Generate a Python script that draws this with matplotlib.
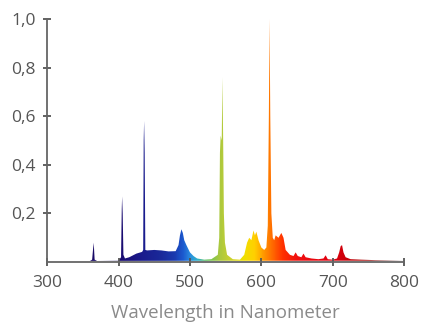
import numpy as np
import matplotlib
matplotlib.use('Agg')
import matplotlib.pyplot as plt
from matplotlib.colors import LinearSegmentedColormap
from matplotlib.ticker import FuncFormatter

# spectrum (wavelength in nm, relative intensity)
wavelength = [360, 363, 364.5, 365.2, 366.5, 370, 400, 403.5, 404.5, 405, 405.8, 406.8,
              409, 415, 425, 433, 434.5, 435.2, 435.8, 436.6, 437.5, 440, 450, 460, 470,
              480, 484, 486, 488, 490, 492, 495, 500, 505, 510, 520, 530, 539, 541, 542,
              543, 544.5, 545.5, 546.5, 547.5, 549, 552, 560, 570, 576, 580, 583, 586,
              589, 591, 593, 596, 600, 604, 607, 609, 610.5, 611.5, 612.5, 614, 616, 618,
              620, 624, 628, 631, 634, 640, 645, 648, 651, 656, 659, 662, 670, 680, 687,
              690, 693, 700, 706, 709, 711, 713, 715, 718, 725, 740, 760, 780, 800]
intensity = [0.005, 0.01, 0.06, 0.08, 0.01, 0.005, 0.006, 0.02, 0.22, 0.27, 0.2, 0.03,
             0.015, 0.02, 0.035, 0.042, 0.05, 0.5, 0.58, 0.45, 0.05, 0.048, 0.05, 0.048,
             0.044, 0.045, 0.07, 0.11, 0.135, 0.12, 0.09, 0.07, 0.04, 0.025, 0.015, 0.01,
             0.012, 0.03, 0.1, 0.45, 0.52, 0.5, 0.76, 0.5, 0.2, 0.08, 0.03, 0.012, 0.01,
             0.03, 0.08, 0.1, 0.09, 0.13, 0.11, 0.125, 0.09, 0.06, 0.05, 0.06, 0.15, 0.6,
             1.0, 0.6, 0.2, 0.1, 0.09, 0.11, 0.10, 0.12, 0.1, 0.05, 0.03, 0.025, 0.04,
             0.025, 0.02, 0.035, 0.02, 0.015, 0.012, 0.015, 0.028, 0.012, 0.01, 0.015,
             0.04, 0.065, 0.07, 0.04, 0.02, 0.012, 0.01, 0.008, 0.007, 0.006]

# colour stops along the wavelength axis
color_wl = [300, 400, 430, 460, 478, 490, 500, 510, 522, 540, 555, 575, 590, 605, 615,
            630, 650, 700, 740, 800]
color_hex = ['#1a0a5c', '#1a0a6e', '#1a1a8c', '#1a2a9a', '#1a3ab0', '#1c5ad0', '#2a8ee0',
             '#30b0c8', '#5ec060', '#a8c840', '#c8d030', '#f0e000', '#ffd000', '#ff9000',
             '#ff6a00', '#ff3000', '#f01010', '#e00010', '#b00000', '#300000']

xticks = [300, 400, 500, 600, 700, 800]
yticks = [0.2, 0.4, 0.6, 0.8, 1.0]

plt.rcParams['font.family'] = ['Open Sans', 'DejaVu Sans']

fig = plt.figure(figsize=(4.21, 3.26), dpi=100)
ax = fig.add_axes([0.112, 0.196, 0.848, 0.746])

cmap = LinearSegmentedColormap.from_list(
    'spec', [((w - 300) / 500, c) for w, c in zip(color_wl, color_hex)])

# polygon of the spectrum, used as clip for the colour ramp
poly = ax.fill(wavelength, intensity, facecolor='none', edgecolor='none')[0]
ramp = np.linspace(300, 800, 1000).reshape(1, -1)
img = ax.imshow(ramp, extent=[300, 800, 0, 1], aspect='auto', cmap=cmap,
                vmin=300, vmax=800, origin='lower', interpolation='bilinear')
img.set_clip_path(poly)

ax.set_xlim(300, 800)
ax.set_ylim(0, 1.0)
ax.set_xticks(xticks)
ax.set_yticks(yticks)
ax.yaxis.set_major_formatter(FuncFormatter(lambda v, p: f'{v:.1f}'.replace('.', ',')))

for s in ['top', 'right']:
    ax.spines[s].set_visible(False)
for s in ['left', 'bottom']:
    ax.spines[s].set_color('#666666')
    ax.spines[s].set_linewidth(1.3)

ax.tick_params(direction='inout', length=6, width=1.3, color='#555555',
               labelcolor='#555555', labelsize=12.5)
ax.tick_params(axis='x', pad=6)
ax.tick_params(axis='y', pad=5)

ax.set_xlabel('Wavelength in Nanometer', color='#8a8a8a', fontsize=13.5, labelpad=10)

plt.savefig('out.png', dpi=100)
